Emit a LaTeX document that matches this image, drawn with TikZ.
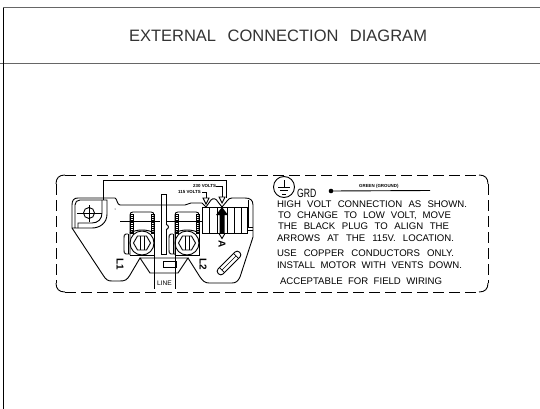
\documentclass[tikz,border=0pt]{standalone}
\usepackage{fontspec}
\setmainfont{Liberation Sans}
\usetikzlibrary{shapes.geometric}
\newcommand{\cadline}[4]{\node[cadtext] (#1) at (#2) {\makebox[#3pt][s]{#4}};}
\tikzset{
  x=1pt,y=-1pt,
  frame/.style={draw=black!60,line width=1pt},
  art/.style={draw=black,line width=0.9pt},
  thin art/.style={draw=black,line width=0.6pt},
  cadtext/.style={anchor=base west,inner sep=0,outer sep=0,font=\fontsize{9.6}{10}\selectfont},
  tiny label/.style={inner sep=0,font=\fontsize{4.4}{5}\selectfont\bfseries},
  side label/.style={inner sep=0,rotate=-90,font=\fontsize{10}{11}\selectfont\bfseries},
  long dash/.style={art,dash pattern=on 11pt off 5pt},
  hollow tip/.style={art,fill=white}
}
\begin{document}
\begin{tikzpicture}
\useasboundingbox (0,0) rectangle (540,409);
% sheet frame
\draw[frame] (3,8) -- (540,8);
\draw[frame] (0,63.5) -- (540,63.5);
\draw[art] (3,8) -- (3,409);
\node[inner sep=0,text=black!80,font=\fontsize{16.5}{18}\selectfont] (title) at (278,36) {\makebox[298pt][s]{EXTERNAL\ \ CONNECTION\ \ DIAGRAM}};
% dashed label outline
\draw[art] (56,184) .. controls (56,178) and (59,175) .. (65,175);
\draw[art] (479,175) .. controls (485,175) and (488,178) .. (488,184);
\draw[art] (488,283) .. controls (488,289) and (485,292) .. (479,292);
\draw[art] (65,292) .. controls (59,292) and (56,289) .. (56,283);
\draw[long dash] (65,175) -- (479,175);
\draw[long dash] (65,292) -- (479,292);
\draw[long dash] (56,184) -- (56,283);
\draw[long dash] (488,184) -- (488,283);
% body outline
\draw[art] (72,228) -- (72,205) .. controls (72,200) and (74,198) .. (78,198) -- (115,198)
  .. controls (117,198) and (117,205) .. (120,205) -- (185,205)
  .. controls (188,205) and (188,203) .. (191,203) -- (202,203);
\draw[art] (232,198) -- (245,198) .. controls (250,198) and (253,200) .. (253,205)
  -- (253,237) -- (240,277) .. controls (238,281) and (236,283) .. (232,283)
  -- (209,283) .. controls (205,283) and (203,281) .. (200,277) -- (188,258);
\draw[art] (72,228) -- (103,275) .. controls (106,280) and (108,281) .. (112,281)
  -- (120,281) .. controls (125,281) and (127,280) .. (130,275) -- (140,258) -- (150,273) -- (178,273) -- (188,258) -- (140,258);
% mounting hole bracket
\draw[art] (75,228) -- (75,205) .. controls (75,202) and (77,200) .. (80,200) -- (107,200) -- (107,214)
  .. controls (107,223) and (100,228) .. (92,228) -- (72,228);
\draw[art] (102,200) -- (102,213) .. controls (102,219) and (98,223) .. (92,223) -- (78,223) -- (78,228);
\draw[art] (89,213) circle[radius=5.5];
\draw[art] (77,213) -- (102,213);
\draw[art] (89,205) -- (89,222);
\fill (115,209) circle[radius=0.5];
% top wire
\draw[art] (103,200) -- (103,180) -- (226,180) -- (226,198);
% terminals
\foreach \cx in {142,187}{
  \draw[art] (\cx-12,233) -- (\cx-12,215) .. controls (\cx-12,213) and (\cx-11,212) .. (\cx-9,212)
    -- (\cx+9,212) .. controls (\cx+11,212) and (\cx+12,213) .. (\cx+12,215) -- (\cx+12,233);
  \foreach \sx in {-12,9}{
    \draw[thin art] (\cx+\sx,214) rectangle (\cx+\sx+3,233);
    \foreach \ry in {216,218,...,232}{\draw[thin art] (\cx+\sx,\ry) -- (\cx+\sx+3,\ry);}
  }
  \draw[art] (\cx-12,255) -- (\cx+12,255) -- (\cx+12,233);
  \draw[art] (\cx-12,255) -- (\cx-12,233) .. controls (\cx-6,229) and (\cx+6,229) .. (\cx+12,233);
  \draw[art] (\cx-14,234) -- (\cx-16,234) .. controls (\cx-18,234) and (\cx-18,236) .. (\cx-18,238)
     -- (\cx-18,250) .. controls (\cx-18,252) and (\cx-18,254) .. (\cx-16,254) -- (\cx-12,254);
  \draw[art] (\cx-14,234) -- (\cx-14,254);
  \draw[art] (\cx,243) circle[radius=12];
  \draw[art] (\cx-8.5,243) -- (\cx-4.5,236) -- (\cx+4.5,236) -- (\cx+8.5,243) -- (\cx+4.5,250) -- (\cx-4.5,250) -- cycle;
  \draw[thin art] (\cx-2.2,236) -- (\cx-2.2,250) (\cx+2.2,236) -- (\cx+2.2,250);
}
\draw[art] (120,221) -- (160,221) (166,221) -- (202,221);
% centre bar
\draw[art] (161,194) rectangle (166,254);
\draw[art,fill=white] (166,229.5) arc[start angle=90,end angle=-90,radius=2.5] ;
% LINE leads
\draw[art] (154,233) -- (154,289);
\draw[art] (175,233) -- (175,289);
\node[inner sep=0,font=\fontsize{6.6}{7}\selectfont] (linelabel) at (164.5,283) {LINE};
\draw[art] (163,261) rectangle (176,267);
\node[side label] (l1) at (120,264) {L1};
\node[side label] (l2) at (203,264) {L2};
% plug
\draw[art] (202,207) rectangle (247,233);
\foreach \lx in {209,217,227,234,241}{\draw[art] (\lx,207) -- (\lx,233);}
\draw[art] (202,203) -- (206,207) -- (211,200) .. controls (213,198) and (216,198) .. (218,202) -- (222,207)
  -- (227,201) .. controls (228,199) and (230,198) .. (232,198);
\draw[art] (248,200) -- (248,227) -- (253,227) (248,230) -- (253,230);
% thick arrow
\fill[black] (219.5,233) -- (219.5,215) -- (216,215) -- (222,207) -- (228,215) -- (224.5,215) -- (224.5,233) -- cycle;
\draw[hollow tip] (219,233.5) -- (225,233.5) -- (222,238.5) -- cycle;
\node[side label] (a) at (222,244) {A};
% voltage tags
\node[tiny label,anchor=west] (v230) at (193,186) {230 VOLTS};
\node[tiny label,anchor=west] (v115) at (178,192) {115 VOLTS};
\draw[art] (v230.east) -- (222,186) -- (222,197);
\draw[art] (v115.east) ++(1,0) -- (206,192) -- (206,198);
\draw[hollow tip] (219,197) -- (225,197) -- (222,203) -- cycle;
\draw[hollow tip] (203,198) -- (209,198) -- (206,204) -- cycle;
% fuse
\begin{scope}[shift={(229,263)},rotate=45]
  \draw[art,rounded corners=3pt] (-15,-3.5) rectangle (15,3.5);
  \draw[thin art] (-10,-3.5) -- (-10,3.5) (10,-3.5) -- (10,3.5) (-10,0) -- (10,0);
\end{scope}
% ground
\draw[art] (284,187) circle[radius=10.5];
\draw[art] (284,180) -- (284,187);
\draw[art] (278,187) -- (290,187) (280,190.5) -- (288,190.5) (282,194) -- (286,194);
\node[anchor=base west,inner sep=0,font=\fontsize{12}{13}\selectfont] (grd) at (297,197.5) {\scalebox{0.72}[1]{GRD}};
\fill (331,191) circle[radius=2.3] coordinate (dot);
\coordinate (wireend) at (430,190.5);
\draw[art] (dot) -- (wireend);
\node[tiny label,anchor=west] (green) at (359,186) {GREEN (GROUND)};
% notes
\cadline{n1}{277,207.5}{190}{HIGH VOLT CONNECTION AS SHOWN.}
\cadline{n2}{278,218.5}{173}{TO CHANGE TO LOW VOLT, MOVE}
\cadline{n3}{278,229.5}{171}{THE BLACK PLUG TO ALIGN THE}
\cadline{n4}{277,241}{177}{ARROWS AT THE 115V. LOCATION.}
\cadline{n5}{277,256.5}{177}{USE COPPER CONDUCTORS ONLY.}
\cadline{n6}{277,268.5}{185}{INSTALL MOTOR WITH VENTS DOWN.}
\cadline{n7}{280,284.5}{162}{ACCEPTABLE FOR FIELD WIRING}
\end{tikzpicture}
\end{document}
